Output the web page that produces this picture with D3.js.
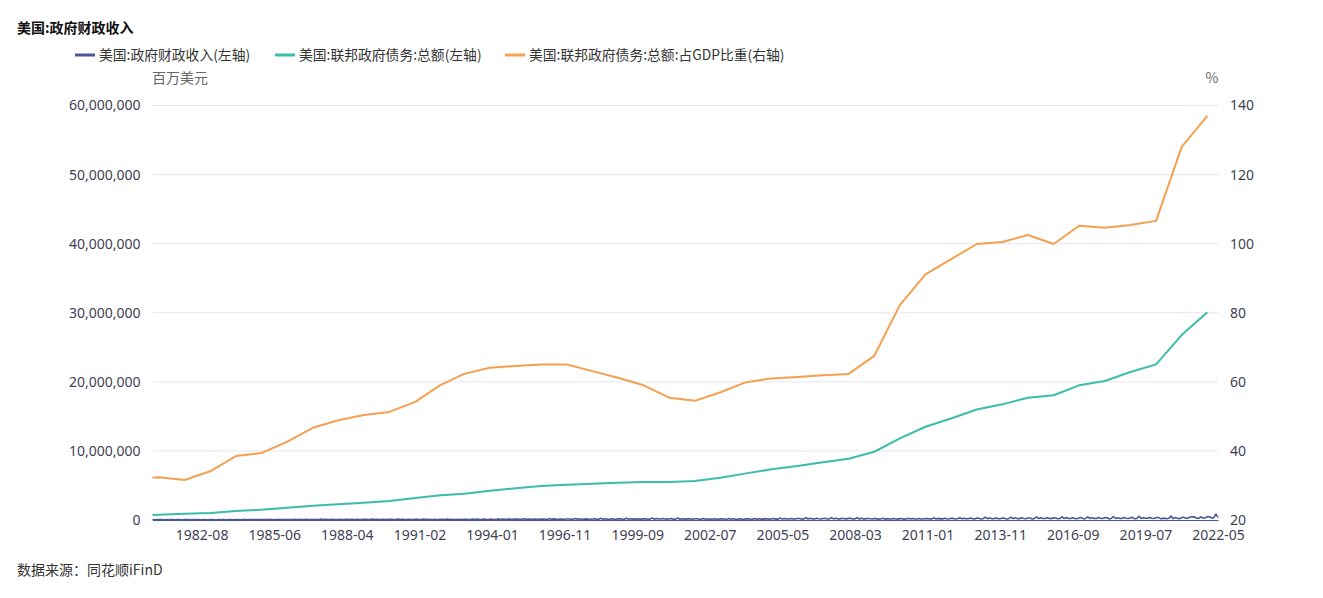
<!DOCTYPE html>
<html>
<head>
<meta charset="utf-8">
<script src="https://d3js.org/d3.v7.min.js"></script>
<style>
  body { margin: 0; background: #fff; }
  text { font-family: "Noto Sans CJK SC", "Noto Sans", sans-serif; }
</style>
</head>
<body>
<div id="chart-region"></div>
<script>
const WIDTH = 1323, HEIGHT = 598;
const PLOT = {LEFT: 152.5, RIGHT: 1218, TOP: 105.5, BOTTOM: 520};

const TITLE = "美国:政府财政收入";
const SOURCE = "数据来源：同花顺iFinD";
const seriesNames = ["美国:政府财政收入(左轴)", "美国:联邦政府债务:总额(左轴)", "美国:联邦政府债务:总额:占GDP比重(右轴)"];
const colors = ["#4b5598", "#3bbdab", "#f4a04f"];

// monthly categories, one month is absent from the source data
const firstMonth = "1980-09", lastMonth = "2022-05", absentMonth = "1992-03";
const leftTicks = [0, 10000000, 20000000, 30000000, 40000000, 50000000, 60000000];
const rightTicks = [20, 40, 60, 80, 100, 120, 140];

// 政府财政收入, monthly, billions of USD (1980-09 .. 2022-05)
const revenueBn = [
  60, 42, 40, 52,                                   // 1980 Sep-Dec
  57, 45, 40, 76, 42, 68, 50, 47, 66, 48, 44, 58,   // 1981
  60, 44, 42, 82, 40, 66, 48, 46, 66, 47, 42, 58,   // 1982
  58, 42, 42, 76, 39, 66, 46, 48, 66, 48, 46, 62,   // 1983
  64, 46, 47, 86, 44, 74, 53, 54, 74, 53, 50, 66,   // 1984
  72, 50, 52, 96, 46, 82, 58, 58, 80, 57, 54, 72,   // 1985
  78, 52, 54, 98, 48, 84, 60, 60, 84, 60, 56, 78,   // 1986
  82, 56, 60, 124, 56, 92, 66, 64, 94, 66, 60, 82,  // 1987
  86, 60, 64, 118, 60, 100, 70, 68, 98, 70, 64, 88, // 1988
  94, 64, 68, 132, 66, 106, 74, 72, 104, 74, 70, 94, // 1989
  98, 66, 70, 136, 68, 108, 78, 76, 108, 78, 72, 98, // 1990
  100, 68, 70, 132, 70, 108, 80, 76, 106, 78, 74, 98, // 1991
  102, 70, 138, 72, 112, 82, 78, 110, 80, 76, 102,   // 1992 (no Mar)
  108, 72, 76, 148, 76, 124, 86, 82, 122, 86, 80, 112, // 1993
  120, 80, 82, 160, 84, 136, 94, 90, 134, 92, 88, 122, // 1994
  130, 86, 88, 176, 88, 146, 98, 96, 144, 98, 94, 130, // 1995
  140, 90, 92, 196, 96, 158, 104, 104, 156, 106, 100, 140, // 1996
  152, 98, 100, 218, 102, 170, 112, 110, 168, 114, 108, 150, // 1997
  164, 104, 108, 246, 110, 184, 122, 116, 180, 124, 114, 160, // 1998
  174, 110, 114, 258, 116, 190, 128, 124, 186, 130, 120, 168, // 1999
  190, 118, 124, 284, 124, 206, 138, 134, 204, 140, 128, 182, // 2000
  200, 118, 124, 280, 120, 190, 128, 130, 186, 140, 120, 176, // 2001
  180, 110, 116, 230, 112, 176, 118, 120, 180, 130, 112, 168, // 2002
  170, 106, 114, 210, 104, 170, 114, 118, 176, 130, 110, 166, // 2003
  176, 110, 116, 230, 112, 186, 124, 126, 196, 142, 120, 180, // 2004
  196, 120, 128, 290, 132, 218, 140, 140, 226, 160, 136, 208, // 2005
  220, 130, 142, 316, 144, 240, 156, 154, 246, 176, 150, 228, // 2006
  240, 142, 154, 342, 156, 258, 168, 164, 262, 186, 160, 238, // 2007
  250, 150, 158, 340, 150, 250, 160, 160, 250, 170, 150, 210, // 2008
  200, 120, 140, 260, 126, 200, 140, 136, 214, 150, 130, 200, // 2009
  180, 126, 146, 246, 136, 220, 150, 150, 230, 160, 140, 224, // 2010
  200, 140, 160, 304, 150, 236, 160, 160, 260, 170, 150, 240, // 2011
  230, 150, 180, 318, 180, 260, 184, 180, 276, 184, 160, 270, // 2012
  260, 150, 190, 406, 198, 286, 200, 186, 304, 200, 180, 290, // 2013
  260, 150, 190, 404, 190, 330, 200, 190, 320, 220, 190, 300, // 2014
  290, 160, 210, 470, 204, 340, 220, 210, 340, 230, 200, 320, // 2015
  300, 170, 210, 450, 210, 350, 220, 210, 340, 220, 190, 320, // 2016
  340, 170, 220, 460, 220, 340, 230, 220, 350, 240, 210, 320, // 2017
  360, 160, 210, 510, 220, 330, 230, 220, 350, 250, 210, 320, // 2018
  380, 170, 230, 540, 230, 340, 250, 270, 370, 250, 210, 320, // 2019
  390, 190, 240, 240, 170, 240, 560, 200, 370, 250, 190, 360, // 2020
  380, 260, 270, 440, 460, 450, 260, 260, 460, 280, 280, 490, // 2021
  470, 290, 300, 860, 380                             // 2022 Jan-May
];

// 联邦政府债务 (annual), millions of USD, and its share of GDP (%)
const annualDates = ["1980-09", "1980-12", "1981-12", "1982-12", "1983-12", "1984-12", "1985-12", "1986-12",
  "1987-12", "1988-12", "1989-12", "1990-12", "1991-12", "1992-12", "1993-12", "1994-12", "1995-12",
  "1996-12", "1997-12", "1998-12", "1999-12", "2000-12", "2001-12", "2002-12", "2003-12", "2004-12",
  "2005-12", "2006-12", "2007-12", "2008-12", "2009-12", "2010-12", "2011-12", "2012-12", "2013-12",
  "2014-12", "2015-12", "2016-12", "2017-12", "2018-12", "2019-12", "2020-12", "2021-12"];
const debt = [720000, 750000, 910000, 1010000, 1300000, 1490000, 1780000, 2070000, 2270000, 2500000,
  2750000, 3180000, 3570000, 3800000, 4240000, 4580000, 4920000, 5110000, 5250000, 5400000, 5500000,
  5500000, 5640000, 6120000, 6750000, 7330000, 7810000, 8350000, 8870000, 9880000, 11820000, 13500000,
  14690000, 15990000, 16740000, 17700000, 18050000, 19490000, 20120000, 21420000, 22530000, 26770000, 30060000];
const debtToGdp = [32.2, 32.4, 31.6, 34.1, 38.5, 39.4, 42.6, 46.7, 48.9, 50.4, 51.3, 54.2, 59.1, 62.3,
  64.1, 64.6, 65.0, 65.0, 63.1, 61.2, 59.0, 55.4, 54.5, 57.0, 59.9, 61.0, 61.4, 61.9, 62.3, 67.5, 82.2,
  91.1, 95.5, 99.9, 100.5, 102.5, 99.9, 105.2, 104.6, 105.4, 106.6, 128.0, 137.0];

const fmtMonth = d3.timeFormat("%Y-%m");
const parseMonth = d3.timeParse("%Y-%m");
const months = d3.timeMonth.range(parseMonth(firstMonth), d3.timeMonth.offset(parseMonth(lastMonth), 1))
  .map(fmtMonth)
  .filter(m => m !== absentMonth);

const chart = d3.select("#chart-region").append("svg")
  .attr("width", WIDTH)
  .attr("height", HEIGHT);

const xScale = d3.scalePoint().domain(months).range([PLOT.LEFT, PLOT.RIGHT]);
const yLeft = d3.scaleLinear().domain([0, 60000000]).range([PLOT.BOTTOM, PLOT.TOP]);
const yRight = d3.scaleLinear().domain([20, 140]).range([PLOT.BOTTOM, PLOT.TOP]);

// title
chart.append("text")
  .attr("x", 17).attr("y", 33)
  .attr("font-size", "14px").attr("font-weight", "bold").attr("fill", "#111")
  .text(TITLE);

// legend
const legendX = [75, 275, 505];
seriesNames.forEach((name, i) => {
  chart.append("rect")
    .attr("x", legendX[i]).attr("y", 53.5)
    .attr("width", 20).attr("height", 3)
    .attr("fill", colors[i]);
  chart.append("text")
    .attr("x", legendX[i] + 24).attr("y", 60)
    .attr("font-size", "13.8px").attr("fill", "#333")
    .text(name);
});

// axis names
chart.append("text")
  .attr("x", 152).attr("y", 83)
  .attr("font-size", "14px").attr("fill", "#666")
  .text("百万美元");
chart.append("text")
  .attr("x", 1212).attr("y", 83)
  .attr("text-anchor", "middle")
  .attr("font-size", "14px").attr("fill", "#666")
  .text("%");

// grid
chart.append("g")
  .selectAll("line")
  .data(leftTicks.slice(1))
  .enter()
  .append("line")
  .attr("x1", PLOT.LEFT).attr("x2", PLOT.RIGHT)
  .attr("y1", d => yLeft(d)).attr("y2", d => yLeft(d))
  .attr("stroke", "#e6e6f0").attr("stroke-width", 1);

// left axis
const leftAxis = chart.append("g")
  .attr("transform", `translate(${PLOT.LEFT - 12}, 0)`)
  .call(d3.axisLeft(yLeft).tickValues(leftTicks).tickFormat(d3.format(",")).tickSize(0).tickPadding(0));
leftAxis.select(".domain").remove();
leftAxis.selectAll("text")
  .attr("font-size", "14px").attr("fill", "#3f3f55")
  .style("font-family", "'Noto Sans', sans-serif");

// right axis
const rightAxis = chart.append("g")
  .attr("transform", `translate(${PLOT.RIGHT + 12}, 0)`)
  .call(d3.axisRight(yRight).tickValues(rightTicks).tickSize(0).tickPadding(0));
rightAxis.select(".domain").remove();
rightAxis.selectAll("text")
  .attr("font-size", "14px").attr("fill", "#3f3f55")
  .style("font-family", "'Noto Sans', sans-serif");

// bottom axis, a label every 34 months counted back from the last one
const xTickValues = months.filter((m, i) => (months.length - 1 - i) % 34 === 0 && i > 0);
const bottomAxis = chart.append("g")
  .attr("transform", `translate(0, ${PLOT.BOTTOM})`)
  .call(d3.axisBottom(xScale).tickValues(xTickValues).tickSize(0).tickPadding(10));
bottomAxis.select(".domain").attr("stroke", "#4b5598").attr("stroke-width", 1);
bottomAxis.selectAll("text")
  .attr("font-size", "14px").attr("fill", "#3f3f55")
  .style("font-family", "'Noto Sans', sans-serif");

// lines
const revenueLine = d3.line()
  .x((d, i) => xScale(months[i]))
  .y(d => yLeft(d * 1000));
chart.append("path")
  .datum(revenueBn)
  .attr("d", revenueLine)
  .attr("fill", "none").attr("stroke", colors[0]).attr("stroke-width", 1.6)
  .attr("stroke-linejoin", "round");

const debtLine = d3.line()
  .x((d, i) => xScale(annualDates[i]))
  .y(d => yLeft(d));
chart.append("path")
  .datum(debt)
  .attr("d", debtLine)
  .attr("fill", "none").attr("stroke", colors[1]).attr("stroke-width", 2)
  .attr("stroke-linejoin", "round");

const ratioLine = d3.line()
  .x((d, i) => xScale(annualDates[i]))
  .y(d => yRight(d));
chart.append("path")
  .datum(debtToGdp)
  .attr("d", ratioLine)
  .attr("fill", "none").attr("stroke", colors[2]).attr("stroke-width", 2)
  .attr("stroke-linejoin", "round");

// source
chart.append("text")
  .attr("x", 17).attr("y", 575)
  .attr("font-size", "14px").attr("fill", "#333")
  .text(SOURCE);
</script>
</body>
</html>
